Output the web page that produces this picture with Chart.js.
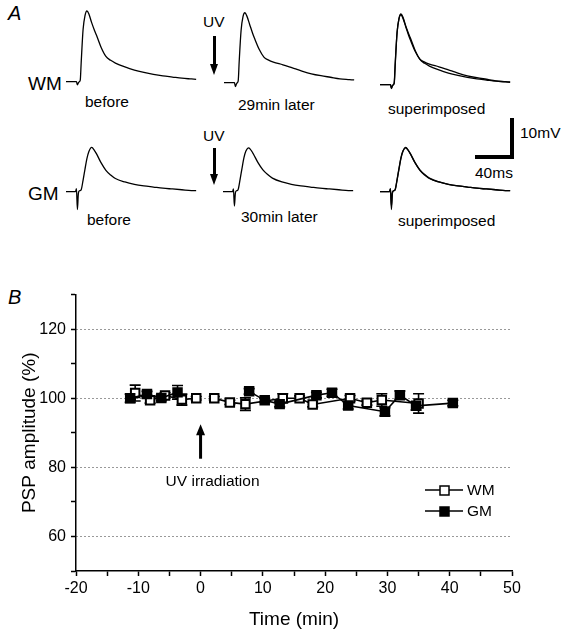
<!DOCTYPE html>
<html>
<head>
<meta charset="utf-8">
<script src="https://cdn.jsdelivr.net/npm/chart.js@4.4.1/dist/chart.umd.min.js"></script>
<style>
html, body { margin: 0; padding: 0; background: #fff; }
body { width: 568px; height: 637px; position: relative; overflow: hidden; font-family: Arial, "Liberation Sans", sans-serif; color: #000; }
.lbl { position: absolute; white-space: nowrap; line-height: 1; font-size: 15.5px; }
.big { font-size: 19px; }
.panel { font-size: 20px; font-style: italic; }
canvas { position: absolute; }
.bar { position: absolute; background: #000; }
.head { position: absolute; width: 0; height: 0; border-left: 4.5px solid transparent; border-right: 4.5px solid transparent; }
</style>
</head>
<body>

<!-- panel A labels -->
<div class="lbl panel" style="left:8px; top:3px;">A</div>
<div class="lbl big" style="left:28px; top:74px;">WM</div>
<div class="lbl big" style="left:28px; top:184px;">GM</div>
<div class="lbl" style="left:85px; top:94px;">before</div>
<div class="lbl" style="left:87px; top:212px;">before</div>
<div class="lbl" style="left:238px; top:97px;">29min later</div>
<div class="lbl" style="left:241px; top:209px;">30min later</div>
<div class="lbl" style="left:203px; top:14px;">UV</div>
<div class="lbl" style="left:203px; top:128px;">UV</div>
<div class="lbl" style="left:388px; top:101px;">superimposed</div>
<div class="lbl" style="left:398px; top:213px;">superimposed</div>
<div class="lbl" style="left:520px; top:125px;">10mV</div>
<div class="lbl" style="left:475px; top:165px;">40ms</div>

<!-- UV arrows -->
<div class="bar" style="left:212.5px; top:36px; width:3px; height:30px;"></div>
<div class="head" style="left:209.5px; top:64px; border-top:11px solid #000;"></div>
<div class="bar" style="left:212.5px; top:148px; width:3px; height:28px;"></div>
<div class="head" style="left:209.5px; top:174px; border-top:11px solid #000;"></div>

<!-- scale bar 10 mV / 40 ms -->
<div class="bar" style="left:510px; top:118px; width:4px; height:41px;"></div>
<div class="bar" style="left:475px; top:155px; width:39px; height:4px;"></div>

<canvas id="wmBeforeCv" class="trace" width="133" height="101" style="left:66px; top:4px;"></canvas>
<canvas id="wm29Cv" class="trace" width="133" height="101" style="left:224px; top:5px;"></canvas>
<canvas id="wmSupCv" class="trace" width="133" height="101" style="left:380px; top:7px;"></canvas>
<canvas id="gmBeforeCv" class="trace" width="133" height="101" style="left:66px; top:114px;"></canvas>
<canvas id="gm30Cv" class="trace" width="133" height="101" style="left:223px; top:114px;"></canvas>
<canvas id="gmSupCv" class="trace" width="133" height="101" style="left:380px; top:114px;"></canvas>

<!-- panel B -->
<div class="lbl panel" style="left:8px; top:287px;">B</div>
<canvas id="timeCourse" width="568" height="357" style="left:0; top:280px;"></canvas>

<script>
// ---- panel A: PSP traces (ms, mV relative to baseline) ----
const traceTime = [-12, -2, -1, 0, 1, 2, 3, 4, 6, 8, 10, 12, 15, 18, 20, 25, 30, 35, 40, 50, 60, 70, 80, 90, 100, 110, 120, 125];
const wmBefore = [0, 0, 0, -0.8, -0.3, 0, 0.4, 5, 13.5, 17, 18.2, 17.5, 15.2, 13.2, 12, 8.8, 6.5, 5.5, 4.8, 3.8, 3.0, 2.4, 1.9, 1.5, 1.2, 0.9, 0.7, 0.6];
const wm29 = [0, 0, 0, -1.0, -0.4, 0, 0.6, 5.5, 13.5, 17, 18.0, 17.2, 15, 12.8, 11.5, 8.6, 6.6, 5.8, 5.3, 4.6, 3.8, 3.0, 2.3, 1.8, 1.4, 1.0, 0.8, 0.7];
const gmBefore = [0, 0, 0.8, -4.6, -0.5, 0.2, 0.3, 0.5, 3, 5.8, 8.5, 10.3, 11.4, 10.6, 9.8, 7.4, 5.5, 4.3, 3.4, 2.5, 1.9, 1.5, 1.2, 0.9, 0.7, 0.5, 0.3, 0.3];
const gm30 = [0, 0, 0.7, -3.7, -0.4, 0.2, 0.3, 0.6, 3.2, 6, 8.7, 10.4, 11.3, 10.5, 9.7, 7.4, 5.6, 4.4, 3.5, 2.5, 1.9, 1.5, 1.2, 0.9, 0.7, 0.5, 0.3, 0.3];

// ---- panel B: PSP amplitude (%) vs time (min), null = gap during UV ----
const wmTime  = [-10.5, -8.1, -5.7, -3.0, -0.7, 0.8, 2.2, 4.7, 7.2, 13.2, 15.9, 18.0, 24.0, 26.7, 29.1, 35.0];
const wmValue = [101.5, 99.4, 100.8, 99.6, 100.0, null, 100.0, 98.8, 98.3, 100.0, 100.0, 98.2, 100.0, 98.7, 99.5, 98.5];
const wmError = [2.3, 0.8, 0.8, 1.6, 0.5, null, 0.5, 0.6, 1.8, 1.3, 0.7, 0.7, 0.8, 0.7, 1.8, 2.8];
const gmTime  = [-11.3, -8.6, -6.3, -3.7, 2.0, 7.8, 10.3, 12.7, 18.6, 21.1, 23.7, 29.6, 32.0, 34.6, 40.5];
const gmValue = [100.0, 101.2, 100.1, 101.7, null, 102.0, 99.4, 98.3, 100.9, 101.6, 97.9, 96.1, 100.9, 97.8, 98.6];
const gmError = [1.2, 0.8, 0.8, 2.0, null, 0.8, 0.6, 0.8, 0.8, 1.0, 1.0, 1.2, 1.2, 1.2, 0.8];
const yLabelTicks = [60, 80, 100, 120];
const xLabelTicks = [-20, -10, 0, 10, 20, 30, 40, 50];

const font = 'Arial, "Liberation Sans", sans-serif';

function traceChart(id, seriesList) {
  new Chart(document.getElementById(id), {
    type: 'line',
    data: {
      datasets: seriesList.map(s => ({
        data: s.map((v, i) => ({ x: traceTime[i], y: v })),
        borderColor: '#000',
        borderWidth: 1.3,
        pointRadius: 0,
        cubicInterpolationMode: 'monotone',
        fill: false,
        clip: false
      }))
    },
    options: {
      responsive: false,
      animation: false,
      events: [],
      layout: { padding: 0 },
      plugins: { legend: { display: false }, tooltip: { enabled: false } },
      scales: {
        x: { type: 'linear', display: false, min: -12, max: 128 },
        y: { display: false, min: -6, max: 20 }
      }
    }
  });
}

traceChart('wmBeforeCv', [wmBefore]);
traceChart('wm29Cv', [wm29]);
traceChart('wmSupCv', [wmBefore, wm29]);
traceChart('gmBeforeCv', [gmBefore]);
traceChart('gm30Cv', [gm30]);
traceChart('gmSupCv', [gmBefore, gm30]);

// error bars, UV arrow and legend for panel B
const extras = {
  id: 'extras',
  beforeDatasetsDraw(chart) {
    const { ctx, scales: { x, y } } = chart;
    ctx.save();
    ctx.strokeStyle = '#000';
    ctx.lineWidth = 1.6;
    const bars = (times, vals, errs) => {
      times.forEach((t, i) => {
        if (vals[i] == null) return;
        const px = x.getPixelForValue(t);
        const top = y.getPixelForValue(vals[i] + errs[i]);
        const bot = y.getPixelForValue(vals[i] - errs[i]);
        ctx.beginPath();
        ctx.moveTo(px, top); ctx.lineTo(px, bot);
        ctx.moveTo(px - 5.5, top); ctx.lineTo(px + 5.5, top);
        ctx.moveTo(px - 5.5, bot); ctx.lineTo(px + 5.5, bot);
        ctx.stroke();
      });
    };
    bars(wmTime, wmValue, wmError);
    bars(gmTime, gmValue, gmError);
    ctx.restore();
  },
  afterDraw(chart) {
    const { ctx, scales: { x, y } } = chart;
    ctx.save();
    // UV irradiation arrow at t = 0
    const ax = x.getPixelForValue(0);
    const tip = y.getPixelForValue(92.5);
    const base = y.getPixelForValue(82.5);
    ctx.fillStyle = '#000';
    ctx.fillRect(ax - 1.5, tip + 9, 3, base - tip - 9);
    ctx.beginPath();
    ctx.moveTo(ax, tip); ctx.lineTo(ax - 4.5, tip + 11); ctx.lineTo(ax + 4.5, tip + 11);
    ctx.closePath(); ctx.fill();
    ctx.font = '15.5px ' + font;
    ctx.textAlign = 'center';
    ctx.textBaseline = 'middle';
    ctx.fillText('UV irradiation', ax + 12, base + 23);

    // legend
    const items = [
      { label: 'WM', fill: '#fff', y: 210 },
      { label: 'GM', fill: '#000', y: 231 }
    ];
    ctx.textAlign = 'left';
    items.forEach(it => {
      ctx.strokeStyle = '#000';
      ctx.lineWidth = 1.5;
      ctx.beginPath();
      ctx.moveTo(425, it.y); ctx.lineTo(463, it.y);
      ctx.stroke();
      ctx.fillStyle = it.fill;
      ctx.fillRect(440, it.y - 4, 9, 9);
      ctx.strokeRect(440, it.y - 4, 9, 9);
      ctx.fillStyle = '#000';
      ctx.fillText(it.label, 467, it.y + 1);
    });
    ctx.restore();
  }
};

const toXY = (times, vals) => times.map((t, i) => ({ x: t, y: vals[i] }));

new Chart(document.getElementById('timeCourse'), {
  type: 'line',
  data: {
    datasets: [
      {
        label: 'GM',
        data: toXY(gmTime, gmValue),
        borderColor: '#000',
        borderWidth: 1.6,
        pointStyle: 'rect',
        pointRadius: 6,
        pointBackgroundColor: '#000',
        pointBorderColor: '#000',
        pointBorderWidth: 2,
        tension: 0
      },
      {
        label: 'WM',
        data: toXY(wmTime, wmValue),
        borderColor: '#000',
        borderWidth: 1.6,
        pointStyle: 'rect',
        pointRadius: 6,
        pointBackgroundColor: '#fff',
        pointBorderColor: '#000',
        pointBorderWidth: 2,
        tension: 0
      }
    ]
  },
  options: {
    responsive: false,
    animation: false,
    events: [],
    layout: { padding: { top: 14, right: 56, left: 0, bottom: 0 } },
    plugins: { legend: { display: false }, tooltip: { enabled: false } },
    scales: {
      x: {
        type: 'linear',
        min: -20,
        max: 50,
        afterFit(scale) { scale.height = 66; },
        border: { display: true, color: '#000', width: 1.5 },
        grid: { drawOnChartArea: false, tickLength: 5, tickColor: '#000', tickWidth: 1.5 },
        ticks: {
          stepSize: 5,
          autoSkip: false,
          maxRotation: 0,
          padding: 3,
          color: '#000',
          font: { family: font, size: 16 },
          callback: v => xLabelTicks.includes(v) ? String(v) : ''
        },
        title: {
          display: true,
          text: 'Time (min)',
          color: '#000',
          font: { family: font, size: 19 },
          padding: { top: 0, bottom: 6 }
        }
      },
      y: {
        min: 50,
        max: 130,
        afterFit(scale) { scale.width = 76; },
        border: { display: true, color: '#000', width: 1.5, dash: [1, 3] },
        grid: {
          drawOnChartArea: true,
          color: c => yLabelTicks.includes(c.tick.value) ? '#333' : 'rgba(0,0,0,0)',
          lineWidth: 1,
          tickColor: '#000',
          tickLength: 5,
          tickWidth: 1.5,
          tickBorderDash: []
        },
        ticks: {
          stepSize: 10,
          autoSkip: false,
          padding: 5,
          color: '#000',
          font: { family: font, size: 16 },
          callback: v => yLabelTicks.includes(v) ? String(v) : ''
        },
        title: {
          display: true,
          text: 'PSP amplitude (%)',
          color: '#000',
          font: { family: font, size: 19 },
          padding: { top: 18, bottom: 0 }
        }
      }
    }
  },
  plugins: [extras]
});
</script>
</body>
</html>
